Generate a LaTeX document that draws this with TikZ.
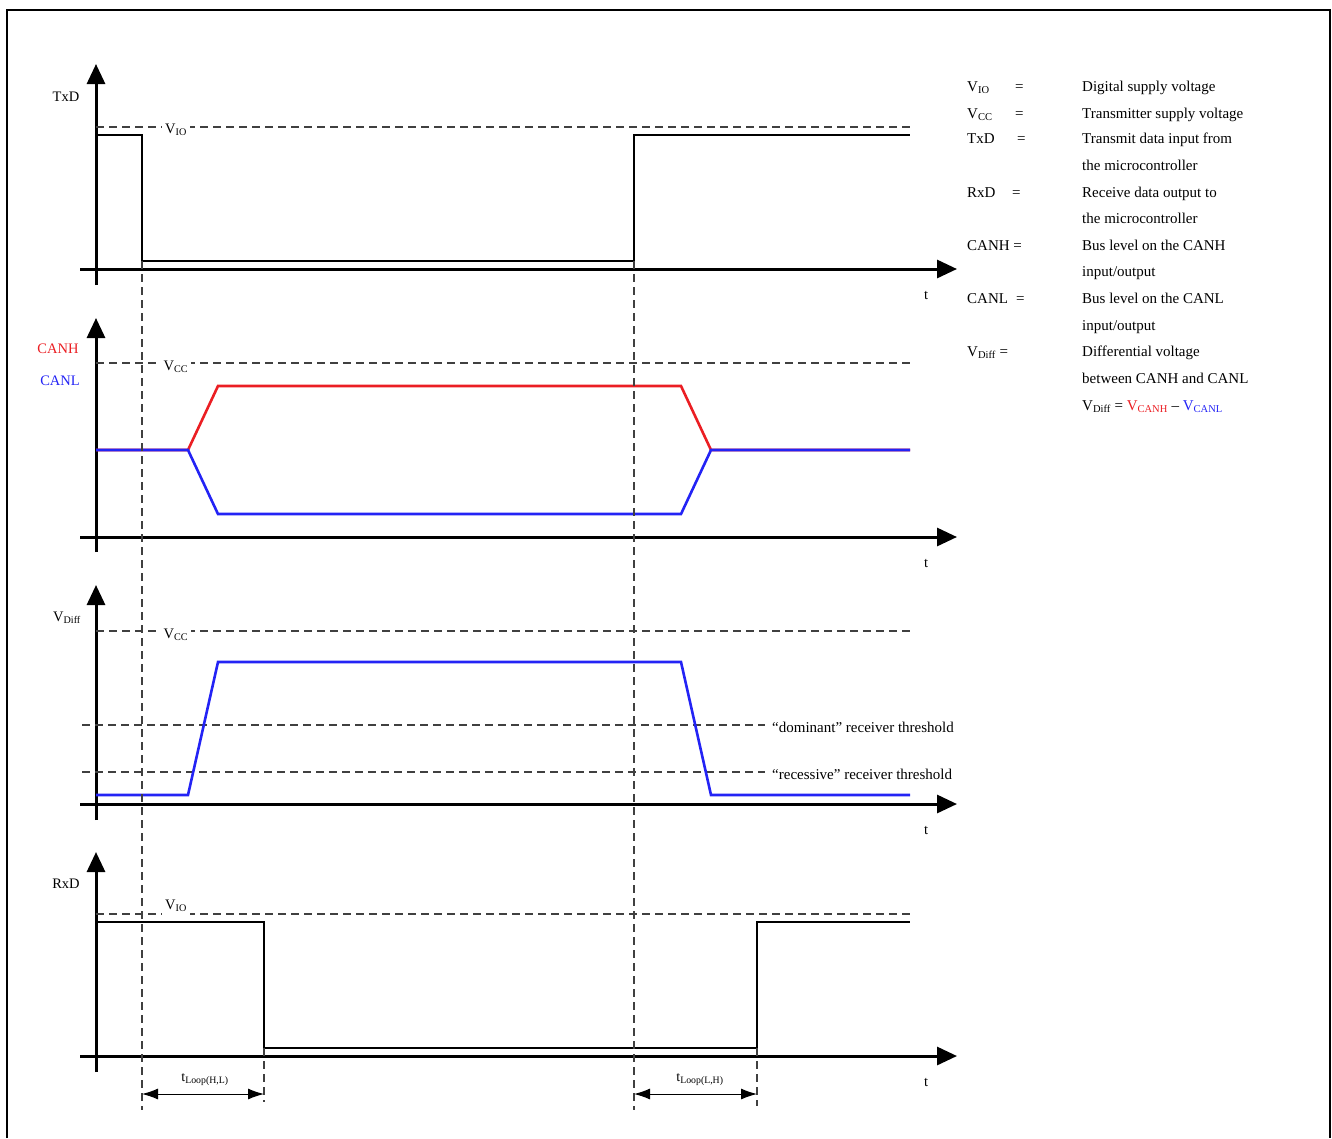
\documentclass[tikz,border=0pt]{standalone}
\usepackage{fontspec}
\setmainfont{Liberation Serif}
\usetikzlibrary{arrows.meta}
\definecolor{canhred}{RGB}{235,30,35}
\definecolor{canlblue}{RGB}{35,35,245}

\begin{document}
\begin{tikzpicture}[x=1pt, y=-1pt,
        axis/.style={line width=3pt, -{Triangle[length=20pt,width=18pt]}},
        sig/.style={line width=2.6pt, line join=miter},
        guide/.style={line width=1.1pt, black!75, dash pattern=on 8pt off 5pt},
        lbl/.style={font=\fontsize{14.5}{16}\selectfont, inner sep=1pt},
        lvl/.style={lbl, fill=white, inner sep=3pt},
        leg/.style={lbl, font=\fontsize{15}{17}\selectfont, anchor=west, text height=10pt, text depth=3pt},
        span/.style={line width=1pt, {Latex[length=16pt,width=11pt]}-{Latex[length=16pt,width=11pt]}}]
        \useasboundingbox (0,0) rectangle (1332,1138);
        \draw[line width=1.3pt] (7,1138) -- (7,10) -- (1330,10) -- (1330,1138);

        % axes of the four panels
        \foreach \ya/\yt/\yb/\n in {269/64/285/1, 537/318/552/2, 804/585/820/3, 1056/852/1072/4} {
                \draw[axis] (80,\ya) -- (957,\ya);
                \draw[axis] (96,\yb) -- (96,\yt);
                \node[lbl] (t\n) at (926,\ya+26) {t};
        }

        % guide lines
        \draw[guide] (96,127) -- (910,127);
        \draw[guide] (96,363) -- (910,363);
        \draw[guide] (96,631) -- (910,631);
        \draw[guide] (82,725) -- (765,725);
        \draw[guide] (82,772) -- (765,772);
        \draw[guide] (96,914) -- (910,914);
        \node[lvl] (vio1) at (176,130) {V\textsubscript{IO}};
        \node[lvl] (vcc2) at (176,367) {V\textsubscript{CC}};
        \node[lvl] (vcc3) at (176,635) {V\textsubscript{CC}};
        \node[lvl] (vio4) at (176,906) {V\textsubscript{IO}};
        \node[lbl, font=\fontsize{15}{17}\selectfont, anchor=west] (dom) at (771,727) {“dominant” receiver threshold};
        \node[lbl, font=\fontsize{15}{17}\selectfont, anchor=west] (rec) at (771,774) {“recessive” receiver threshold};

        % panel names
        \node[lbl] (txd) at (66,97) {TxD};
        \node[lbl, canhred] (canh) at (58,349) {CANH};
        \node[lbl, canlblue] (canl) at (60,381) {CANL};
        \node[lbl] (vdiff) at (67,618) {V\textsubscript{Diff}};
        \node[lbl] (rxd) at (66,884) {RxD};

        % signals
        \draw[sig] (96,135) -- (142,135) -- (142,261) -- (634,261) -- (634,135) -- (910,135);
        \draw[sig, canhred] (96,450) -- (188,450) -- (218,386) -- (681,386) -- (711,450) -- (910,450);
        \draw[sig, canlblue] (96,450) -- (188,450) -- (218,514) -- (681,514) -- (711,450) -- (910,450);
        \draw[sig, canlblue] (96,795) -- (188,795) -- (218,662) -- (681,662) -- (711,795) -- (910,795);
        \draw[sig] (96,922) -- (264,922) -- (264,1048) -- (757,1048) -- (757,922) -- (910,922);

        % loop delay markers
        \coordinate (a1) at (142,261);
        \coordinate (a2) at (142,1110);
        \coordinate (b1) at (264,1048);
        \coordinate (b2) at (264,1102);
        \coordinate (c1) at (634,261);
        \coordinate (c2) at (634,1110);
        \coordinate (d1) at (757,1048);
        \coordinate (d2) at (757,1106);
        \draw[guide] (a1) -- (a2);
        \draw[guide] (b1) -- (b2);
        \draw[guide] (c1) -- (c2);
        \draw[guide] (d1) -- (d2);
        \draw[span] (142,1094) -- (264,1094);
        \draw[span] (634,1094) -- (757,1094);
        \node[lbl, font=\fontsize{14}{16}\selectfont] (thl) at (205,1080) {t\textsubscript{Loop(H,L)}};
        \node[lbl, font=\fontsize{14}{16}\selectfont] (tlh) at (700,1080) {t\textsubscript{Loop(L,H)}};

        % legend
        \node[leg] (k1) at (966,88) {V\textsubscript{IO}};
        \node[leg] at (1014,88) {=};
        \node[leg] (v1) at (1081,88) {Digital supply voltage};
        \node[leg] (k2) at (966,115) {V\textsubscript{CC}};
        \node[leg] at (1014,115) {=};
        \node[leg] (v2) at (1081,115) {Transmitter supply voltage};
        \node[leg] (k3) at (966,140) {TxD};
        \node[leg] at (1016,140) {=};
        \node[leg] (v3) at (1081,140) {Transmit data input from};
        \node[leg] at (1081,167) {the microcontroller};
        \node[leg] (k4) at (966,194) {RxD};
        \node[leg] at (1011,194) {=};
        \node[leg] (v4) at (1081,194) {Receive data output to};
        \node[leg] at (1081,220) {the microcontroller};
        \node[leg] (k5) at (966,247) {CANH =};
        \node[leg] (v5) at (1081,247) {Bus level on the CANH};
        \node[leg] at (1081,273) {input/output};
        \node[leg] (k6) at (966,300) {CANL};
        \node[leg] at (1015,300) {=};
        \node[leg] (v6) at (1081,300) {Bus level on the CANL};
        \node[leg] at (1081,327) {input/output};
        \node[leg] (k7) at (966,353) {V\textsubscript{Diff} =};
        \node[leg] (v7) at (1081,353) {Differential voltage};
        \node[leg] at (1081,380) {between CANH and CANL};
        \node[leg] (f7) at (1081,407) {V\textsubscript{Diff} = \textcolor{canhred}{V\textsubscript{CANH}} -- \textcolor{canlblue}{V\textsubscript{CANL}}};
\end{tikzpicture}
\end{document}
